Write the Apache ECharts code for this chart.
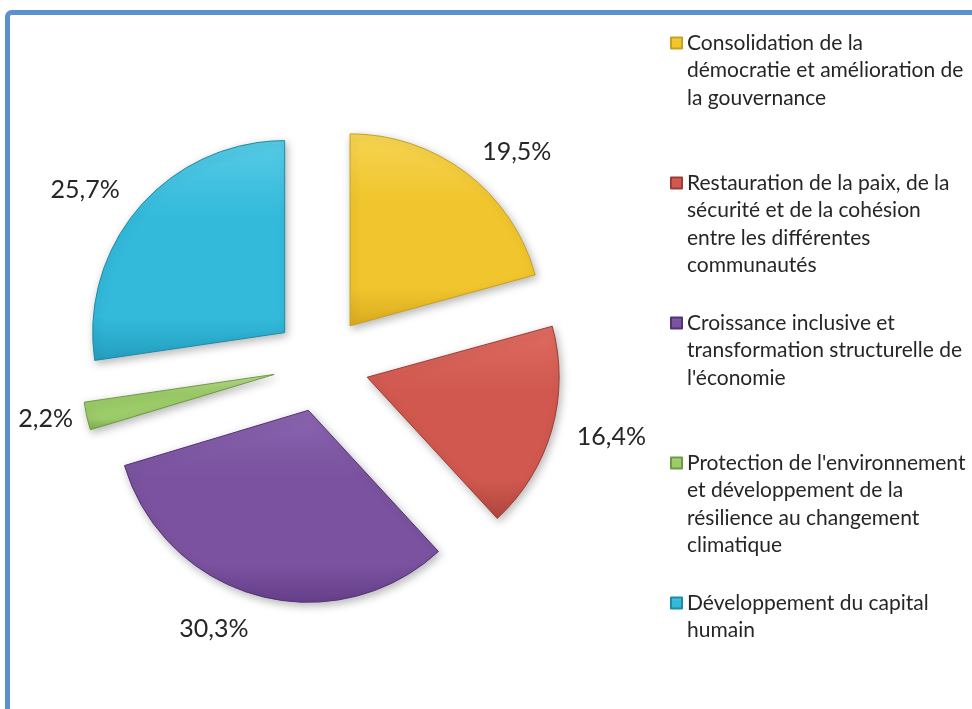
<!DOCTYPE html>
<html>
<head>
<meta charset="utf-8">
<script src="https://cdn.jsdelivr.net/npm/echarts@6/dist/echarts.min.js"></script>
<style>
  html, body { margin: 0; padding: 0; background: #fff; }
  #main { width: 972px; height: 709px; }
</style>
</head>
<body>
<div id="main"></div>
<script>
// categories (in slice order, clockwise from 12 o'clock)
var categories = [
    'Consolidation de la démocratie et amélioration de la gouvernance',
    'Restauration de la paix, de la sécurité et de la cohésion entre les différentes communautés',
    "Croissance inclusive et transformation structurelle de l'économie",
    "Protection de l'environnement et développement de la résilience au changement climatique",
    'Développement du capital humain'
];
// legend text, wrapped as in the picture
var legendLines = [
    ['Consolidation de la', 'démocratie et amélioration de', 'la gouvernance'],
    ['Restauration de la paix, de la', 'sécurité et de la cohésion', 'entre les différentes', 'communautés'],
    ['Croissance inclusive et', 'transformation structurelle de', "l'économie"],
    ["Protection de l'environnement", 'et développement de la', 'résilience au changement', 'climatique'],
    ['Développement du capital', 'humain']
];
// shares in %, as labelled
var shares = [19.5, 16.4, 30.3, 2.2, 25.7];

// light / mid / dark shade for each slice
var palette = [
    ['#f7d552', '#f0c52d', '#d9ac1f'],
    ['#df6b61', '#d0584e', '#b0463e'],
    ['#8a65b0', '#7a529f', '#663f8a'],
    ['#b9dc90', '#9ccb69', '#7fae4d'],
    ['#55cbe6', '#33badb', '#259fc0']
];
var borders = ['#c9a01c', '#9c3d36', '#553277', '#6e9a44', '#1f8aa8'];
// how far each percentage sits out from its slice
var labelReach = [26, 26, 35, 14, 26];

var chart = echarts.init(document.getElementById('main'));

var legendLH = 27.5;
var legendFirstLine = 43;
var legendStep = 140;

function sliceStyle(i) {
    return {
        color: new echarts.graphic.LinearGradient(0, 0, 0, 1, [
            {offset: 0, color: palette[i][0]},
            {offset: 0.35, color: palette[i][1]},
            {offset: 0.8, color: palette[i][1]},
            {offset: 1, color: palette[i][2]}
        ]),
        borderColor: borders[i],
        borderWidth: 1,
        shadowBlur: 8,
        shadowColor: 'rgba(0,0,0,0.28)',
        shadowOffsetX: 2,
        shadowOffsetY: 3
    };
}

var pieData = categories.map(function (name, i) {
    var st = sliceStyle(i);
    return {
        name: name,
        value: shares[i],
        selected: true,
        itemStyle: st,
        select: {itemStyle: st},
        labelLine: {length: labelReach[i]}
    };
});

// one legend per item so every entry starts 140px below the previous one;
// blank lines on top keep the marker level with the first text line
var legends = categories.map(function (name, i) {
    var n = legendLines[i].length;
    var pad = [];
    for (var k = 1; k < n; k++) pad.push(' ');
    return {
        orient: 'vertical',
        left: 670,
        top: legendFirstLine + legendStep * i - (2 * n - 1) * legendLH / 2,
        padding: 0,
        itemWidth: 11,
        itemHeight: 11,
        icon: 'rect',
        selectedMode: false,
        data: [name],
        formatter: function () { return pad.concat(legendLines[i]).join('\n'); },
        textStyle: {
            fontFamily: 'Lato',
            fontSize: 21,
            color: '#262626',
            lineHeight: legendLH
        }
    };
});

chart.setOption({
    animation: false,
    backgroundColor: '#ffffff',
    graphic: [{
        type: 'rect',
        silent: true,
        z: -10,
        shape: {x: 7.5, y: 12.5, width: 1000, height: 800, r: 4},
        style: {fill: 'none', stroke: '#5b90d1', lineWidth: 5}
    }],
    legend: legends,
    series: [{
        type: 'pie',
        center: [321, 364],
        radius: 192,
        startAngle: 90,
        clockwise: true,
        selectedMode: 'multiple',
        selectedOffset: 48,
        avoidLabelOverlap: false,
        emphasis: {disabled: true},
        label: {
            show: true,
            position: 'outside',
            distanceToLabelLine: 0,
            fontFamily: 'Lato',
            fontSize: 25,
            color: '#262626',
            formatter: function (p) {
                return p.value.toFixed(1).replace('.', ',') + '%';
            }
        },
        labelLine: {show: false, length: 26, length2: 0},
        data: pieData
    }]
});
</script>
</body>
</html>
